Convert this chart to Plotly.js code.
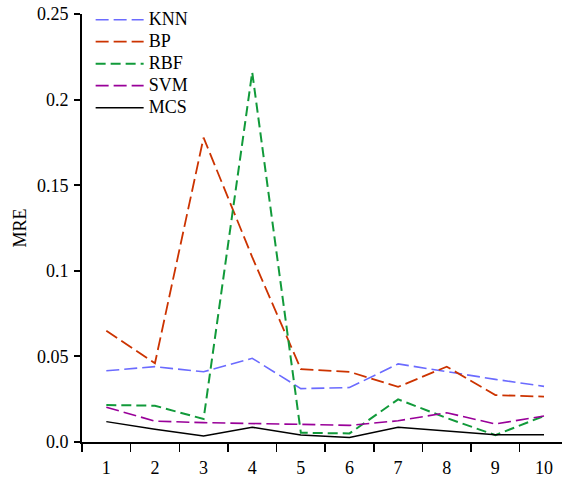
<!DOCTYPE html>
<html>
<head>
<meta charset="utf-8">
<script src="https://cdn.plot.ly/plotly-3.0.1.min.js"></script>
<style>html,body{margin:0;padding:0;background:#fff;}#chart{width:563px;height:483px;}</style>
</head>
<body>
<div id="chart"></div>
<script>
const categories = ['1','2','3','4','5','6','7','8','9','10'];
const seriesNames = ['KNN', 'BP', 'RBF', 'SVM', 'MCS'];
const knn = [0.0416, 0.0440, 0.0410, 0.0489, 0.0312, 0.0318, 0.0456, 0.0410, 0.0366, 0.0325];
const bp  = [0.0650, 0.0460, 0.1778, 0.1080, 0.0426, 0.0410, 0.0322, 0.0440, 0.0274, 0.0265];
const rbf = [0.0216, 0.0212, 0.0134, 0.2160, 0.0054, 0.0050, 0.0249, 0.0140, 0.0040, 0.0152];
const svm = [0.0203, 0.0122, 0.0113, 0.0110, 0.0103, 0.0097, 0.0124, 0.0171, 0.0105, 0.0152];
const mcs = [0.0119, 0.0074, 0.0035, 0.0086, 0.0041, 0.0027, 0.0086, 0.0064, 0.0042, 0.0043];
const yTickVals = [0, 0.05, 0.1, 0.15, 0.2, 0.25];
const yTickText = ['0.0', '0.05', '0.1', '0.15', '0.2', '0.25'];

const font = {family: 'Liberation Serif', size: 18, color: '#000'};
const legFont = {family: 'Liberation Serif', size: 14.6, color: '#000'};
function tr(name, y, color, dash, width) {
  return {x: categories, y: y, name: '<span style="font-size:18px">' + name + '</span>',
          type: 'scatter', mode: 'lines',
          line: {color: color, dash: dash, width: width}};
}
const data = [
  tr(seriesNames[0], knn, '#6b6bff', '13px,5px', 1.6),
  tr(seriesNames[1], bp, '#cc3300', '13px,5px', 1.8),
  tr(seriesNames[2], rbf, '#119a3a', '10px,5px', 2),
  tr(seriesNames[3], svm, '#990099', '13px,5px', 1.6),
  tr(seriesNames[4], mcs, '#000000', 'solid', 1.5)
];
const layout = {
  width: 563, height: 483,
  margin: {l: 82, r: 1, t: 14, b: 41},
  paper_bgcolor: '#fff', plot_bgcolor: '#fff',
  font: font,
  showlegend: true,
  legend: {x: 0.018, y: 1.024, xanchor: 'left', yanchor: 'top', bgcolor: 'rgba(0,0,0,0)',
           font: legFont, itemwidth: 48, tracegroupgap: 0},
  xaxis: {type: 'category', range: [-0.5, 9.37], tickson: 'boundaries',
          ticks: 'outside', ticklen: 8, tickwidth: 1.5, tickcolor: '#000',
          showline: true, linecolor: '#000', linewidth: 2, showgrid: false, zeroline: false,
          tickfont: font, ticklabelstandoff: 8, fixedrange: true},
  yaxis: {range: [0, 0.25], tickvals: yTickVals, ticktext: yTickText,
          ticks: 'outside', ticklen: 6, tickwidth: 2, tickcolor: '#000',
          showline: true, linecolor: '#000', linewidth: 2, showgrid: false, zeroline: false,
          tickfont: font, ticklabelstandoff: 2,
          title: {text: 'MRE', font: font, standoff: 6}, fixedrange: true}
};
Plotly.newPlot('chart', data, layout, {displayModeBar: false, staticPlot: true});
</script>
</body>
</html>
